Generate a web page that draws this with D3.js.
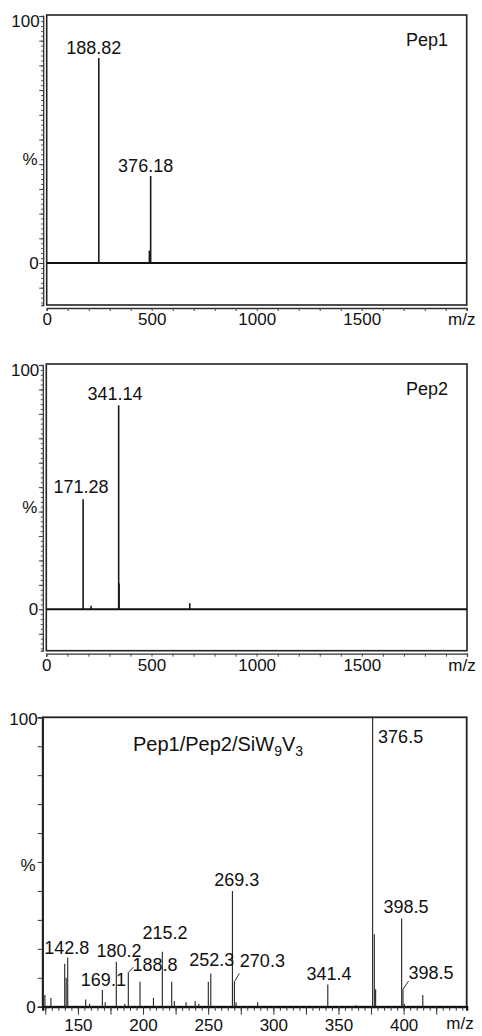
<!DOCTYPE html>
<html>
<head>
<meta charset="utf-8">
<script src="https://cdn.jsdelivr.net/npm/d3@7"></script>
<style>
body{margin:0;background:#fff;}
svg{display:block;font-family:"Liberation Sans",Arial,Helvetica,sans-serif;}
</style>
</head>
<body>
<svg id="spectra"></svg>
<script>
// Pep1 spectrum (m/z, relative intensity %)
var pep1Mz = [248, 489, 495];
var pep1Pct = [83, 5, 35.2];
var pep1LabelText = ["188.82", "376.18"];
var pep1LabelPeak = [0, 2];

// Pep2 spectrum
var pep2Mz = [175, 213, 344, 346, 682];
var pep2Pct = [45, 1.5, 83.5, 10.6, 2.5];
var pep2LabelText = ["171.28", "341.14"];
var pep2LabelPeak = [0, 2];

var wideTicks = [0, 500, 1000, 1500];

// Pep1/Pep2/SiW9V3 spectrum
var mixMz = [124.7, 129.3, 139.9, 141, 142.2, 156, 159, 168.8, 171, 179.5,
             186, 188.7, 197.7, 208, 214.8, 222, 224, 233, 240, 242.8,
             250.1, 252, 268.6, 270.1, 271.4, 288, 341.8, 363.5, 376.2, 377.5,
             378.5, 398.5, 399.5, 400.5, 414.7];
var mixPct = [4, 3, 14.8, 10, 17, 2.5, 1, 5.8, 1.5, 15.5,
              1, 11.8, 8.6, 3, 19, 8.6, 2, 1.5, 2, 1,
              8.6, 11.5, 40, 8.6, 1.5, 1.5, 7.7, 0.5, 100, 25,
              6, 30.5, 6, 1, 4];
var mixLabelText = ["142.8", "169.1", "180.2", "188.8", "215.2", "252.3",
                    "269.3", "270.3", "341.4", "376.5", "398.5", "398.5"];
var mixLabelPeak = [4, 7, 9, 11, 14, 21, 22, 23, 26, 28, 31, 32];
var mixTicks = [150, 200, 250, 300, 350, 400];

// label placement (offset of text centre/baseline from the peak top), leader lines
var pep1LabelPos = [[-5, -4], [-5, -4.5]];
var pep2LabelPos = [[-2, -6], [-3.6, -5.3]];
var mixLabelPos = [[-1, -3.3], [1, -4.3], [2.7, -4.4], [26.7, -1.7], [2.7, -12.7], [1, -7.3],
                   [4.4, -5.3], [28, -14.4], [1.3, -4.3], [28, 25.4], [4.3, -5.6], [28, -10.5]];
var mixLeader = {3: [5, -5.4], 7: [5, -8.4], 11: [5.6, -8.3]};

var svg = d3.select("#spectra")
    .attr("width", 482)
    .attr("height", 1036);

svg.append("rect").attr("width", 482).attr("height", 1036).attr("fill", "#fff");

var drawPeaks = function(g, mz, pct, xScale, yScale, width, color)
{
    g.selectAll(".peak")
        .data(mz)
        .enter()
        .append("line")
        .classed("peak", true)
        .attr("x1", function(d){return xScale(d)})
        .attr("x2", function(d){return xScale(d)})
        .attr("y1", yScale(0))
        .attr("y2", function(d, i){return yScale(pct[i])})
        .attr("stroke", color)
        .attr("stroke-width", width);
}

var drawLabels = function(g, texts, peaks, pos, leaders, mz, pct, xScale, yScale, size)
{
    texts.forEach(function(t, i)
    {
        var px = xScale(mz[peaks[i]]);
        var py = yScale(pct[peaks[i]]);
        if(leaders && leaders[i])
        {
            g.append("line")
                .attr("x1", px).attr("y1", py)
                .attr("x2", px + leaders[i][0]).attr("y2", py + leaders[i][1])
                .attr("stroke", "#333").attr("stroke-width", 1);
        }
        g.append("text")
            .text(t)
            .attr("x", px + pos[i][0])
            .attr("y", py + pos[i][1])
            .attr("text-anchor", "middle")
            .style("font-size", size + "px")
            .attr("fill", "#111");
    });
}

var styleTickText = function(a)
{
    a.select(".domain").remove();
    a.attr("font-family", null).attr("font-size", null);
    a.selectAll("text").style("font-size", "17px").attr("fill", "#111");
}

// panels 1 and 2 share the same layout
var drawWidePanel = function(p)
{
    var xScale = d3.scaleLinear().domain([0, 2000]).range([p.left, p.right]);
    var yScale = d3.scaleLinear().domain([0, 100]).range([p.zero, p.top]);
    var bottom = p.bottom;
    var g = svg.append("g");

    // frame
    g.append("rect")
        .attr("x", p.left).attr("y", yScale(100) - 1)
        .attr("width", p.right - p.left)
        .attr("height", bottom - yScale(100) + 1)
        .attr("fill", "none").attr("stroke", "#222").attr("stroke-width", 1.6);

    // y axis, offset from the frame
    var yAll = d3.scaleLinear().domain([yScale.invert(bottom), 100]).range([bottom, yScale(100)]);
    g.append("g")
        .attr("transform", "translate(" + (p.left - 3.5) + ",0)")
        .call(d3.axisLeft(yAll).tickValues(d3.range(-16, 101, 2)).tickSize(2).tickFormat(""))
        .call(function(a){ a.selectAll("line").attr("stroke", "#444"); a.select(".domain").attr("stroke", "#333").attr("stroke-width", 1.3); });
    g.append("g")
        .attr("transform", "translate(" + (p.left - 3.5) + ",0)")
        .call(d3.axisLeft(yAll).tickValues(d3.range(-10, 101, 10)).tickSize(4).tickFormat(""))
        .call(function(a){ a.selectAll("line").attr("stroke", "#444"); a.select(".domain").remove(); });

    // x axis below the frame
    g.append("g")
        .attr("transform", "translate(0," + (bottom + 3) + ")")
        .call(d3.axisBottom(xScale).tickValues(d3.range(0, 2001, 100)).tickSize(3).tickFormat(""))
        .call(function(a){ a.selectAll("line").attr("stroke", "#444"); a.select(".domain").attr("stroke", "#333").attr("stroke-width", 1.3); });
    g.append("g")
        .attr("transform", "translate(0," + (bottom + 3) + ")")
        .call(d3.axisBottom(xScale).tickValues(wideTicks).tickSize(0).tickPadding(5).tickFormat(d3.format("d")))
        .call(styleTickText);
    g.append("text").text("m/z")
        .attr("x", xScale(2000) - 5).attr("y", bottom + 20)
        .attr("text-anchor", "middle").style("font-size", "17px").attr("fill", "#111");

    // y labels
    g.append("text").text("100").attr("x", p.left - 7).attr("y", yScale(100) + 11)
        .attr("text-anchor", "end").style("font-size", "17px").attr("fill", "#111");
    g.append("text").text("%").attr("x", p.left - 9).attr("y", yScale(42) + 6)
        .attr("text-anchor", "end").style("font-size", "17px").attr("fill", "#111");
    g.append("text").text("0").attr("x", p.left - 8).attr("y", yScale(0) + 6)
        .attr("text-anchor", "end").style("font-size", "17px").attr("fill", "#111");

    // zero line
    g.append("line")
        .attr("x1", p.left).attr("x2", p.right)
        .attr("y1", yScale(0)).attr("y2", yScale(0))
        .attr("stroke", "#111").attr("stroke-width", 2);

    drawPeaks(g, p.mz, p.pct, xScale, yScale, 1.6, "#1a1a1a");
    drawLabels(g, p.labels, p.labelPeak, p.labelPos, null, p.mz, p.pct, xScale, yScale, 18);

    g.append("text").text(p.name)
        .attr("x", 427).attr("y", yScale(100) + 30)
        .attr("text-anchor", "middle").style("font-size", "18px").attr("fill", "#111");
}

drawWidePanel({name: "Pep1", left: 46.7, right: 466.7, zero: 263, top: 16, bottom: 305,
               mz: pep1Mz, pct: pep1Pct, labels: pep1LabelText, labelPeak: pep1LabelPeak, labelPos: pep1LabelPos});
drawWidePanel({name: "Pep2", left: 46.3, right: 467, zero: 609.3, top: 365, bottom: 650.7,
               mz: pep2Mz, pct: pep2Pct, labels: pep2LabelText, labelPeak: pep2LabelPeak, labelPos: pep2LabelPos});

// panel 3
var drawMixPanel = function()
{
    var left = 42.7, right = 466.7, top = 717.3, zero = 1006.7;
    var xScale = d3.scaleLinear().domain([123, 448.4]).range([left, right]);
    var yScale = d3.scaleLinear().domain([0, 100]).range([zero, top]);
    var g = svg.append("g");

    g.append("rect")
        .attr("x", left).attr("y", top)
        .attr("width", right - left).attr("height", zero - top)
        .attr("fill", "none").attr("stroke", "#222").attr("stroke-width", 1.8);

    g.append("g")
        .attr("transform", "translate(" + left + ",0)")
        .call(d3.axisLeft(yScale).tickValues(d3.range(0, 101, 10)).tickSize(5).tickFormat(""))
        .call(function(a){ a.selectAll("line").attr("stroke", "#333"); a.select(".domain").attr("stroke", "#222").attr("stroke-width", 1.5); });

    var minor = d3.range(125, 446, 5);
    g.append("g")
        .attr("transform", "translate(0," + zero + ")")
        .call(d3.axisBottom(xScale).tickValues(minor).tickSize(4).tickFormat(""))
        .call(function(a){ a.selectAll("line").attr("stroke", "#333"); a.select(".domain").attr("stroke", "#111").attr("stroke-width", 2.2); });
    g.append("g")
        .attr("transform", "translate(0," + zero + ")")
        .call(d3.axisBottom(xScale).tickValues(d3.range(125, 446, 25)).tickSize(8).tickFormat(""))
        .call(function(a){ a.selectAll("line").attr("stroke", "#333"); a.select(".domain").remove(); });
    g.append("g")
        .attr("transform", "translate(0," + zero + ")")
        .call(d3.axisBottom(xScale).tickValues(mixTicks).tickSize(0).tickPadding(12).tickFormat(d3.format("d")))
        .call(styleTickText);
    g.append("text").text("m/z")
        .attr("x", 460).attr("y", 1029)
        .attr("text-anchor", "middle").style("font-size", "17px").attr("fill", "#111");

    g.append("text").text("100").attr("x", left - 5).attr("y", top + 8)
        .attr("text-anchor", "end").style("font-size", "17px").attr("fill", "#111");
    g.append("text").text("%").attr("x", left - 7).attr("y", yScale(49) + 6)
        .attr("text-anchor", "end").style("font-size", "17px").attr("fill", "#111");
    g.append("text").text("0").attr("x", left - 7).attr("y", zero + 6)
        .attr("text-anchor", "end").style("font-size", "17px").attr("fill", "#111");

    drawPeaks(g, mixMz, mixPct, xScale, yScale, 1.1, "#222");
    drawLabels(g, mixLabelText, mixLabelPeak, mixLabelPos, mixLeader, mixMz, mixPct, xScale, yScale, 18);

    var title = g.append("text")
        .attr("x", 133).attr("y", 750.7)
        .style("font-size", "20px").attr("fill", "#111");
    title.append("tspan").text("Pep1/Pep2/SiW");
    title.append("tspan").text("9").style("font-size", "14px").attr("dy", 5);
    title.append("tspan").text("V").attr("dy", -5);
    title.append("tspan").text("3").style("font-size", "14px").attr("dy", 5);
}

drawMixPanel();
</script>
</body>
</html>
